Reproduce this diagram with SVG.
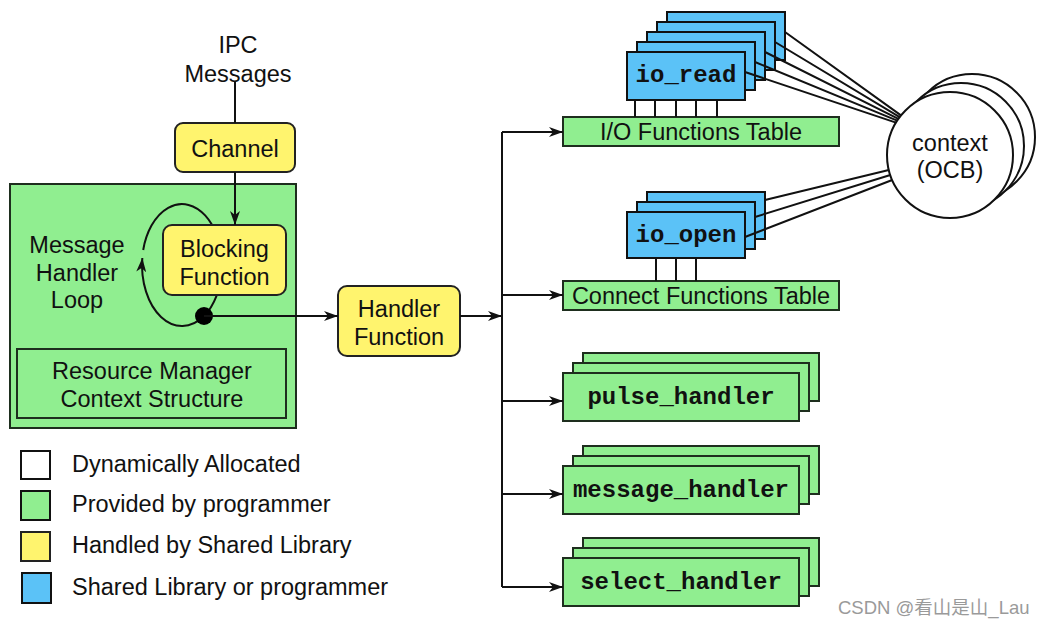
<svg xmlns="http://www.w3.org/2000/svg" width="1044" height="626" viewBox="0 0 1044 626">
<defs>
<marker id="ah" viewBox="0 0 14 10" refX="14" refY="5" markerWidth="14" markerHeight="10" markerUnits="userSpaceOnUse" orient="auto"><path d="M0,0 L14,5 L0,10 L4,5 z" fill="#111"/></marker>
</defs>
<style>
.t{font-family:"Liberation Sans",Arial,sans-serif;font-size:23.5px;fill:#111;text-anchor:middle}
.lg{font-family:"Liberation Sans",Arial,sans-serif;font-size:23.5px;fill:#111}
.m{font-family:"Liberation Mono","Courier New",monospace;font-size:24px;font-weight:bold;fill:#111;text-anchor:middle}
.g{fill:#90ee90;stroke:#1e2e1e;stroke-width:2}
.y{fill:#fff46e;stroke:#222;stroke-width:2}
.b{fill:#5bc2f7;stroke:#111;stroke-width:2}
.w{fill:#fff;stroke:#111;stroke-width:2}
.c{fill:none;stroke:#111;stroke-width:2}
.a{fill:none;stroke:#111;stroke-width:2;marker-end:url(#ah)}
</style>
<rect width="1044" height="626" fill="#fff"/>

<g id="ipc"><text class="t" x="238" y="53">IPC</text><text class="t" x="238" y="82">Messages</text></g>

<g id="rm">
<rect class="g" x="10" y="184" width="286" height="244"/>
<text class="t" x="77" y="253">Message</text><text class="t" x="77" y="281">Handler</text><text class="t" x="77" y="308">Loop</text>
</g>
<g id="loop">
<path class="a" d="M204,316 A40,61 0 0 1 142.3,258"/>
<path class="c" d="M143.2,250 A40,61 0 1 1 204,316"/>
</g>
<g id="channel"><rect class="y" x="175" y="123" width="120" height="49" rx="8"/><text class="t" x="235" y="157">Channel</text></g>
<g id="blocking"><rect class="y" x="163" y="225" width="123" height="70" rx="9"/><text class="t" x="224.5" y="257">Blocking</text><text class="t" x="224.5" y="285">Function</text></g>
<g id="dot"><circle cx="204" cy="316" r="9" fill="#000"/></g>
<g id="rmctx"><rect class="g" x="17" y="349" width="269" height="69"/><text class="t" x="152" y="379">Resource Manager</text><text class="t" x="152" y="407">Context Structure</text></g>

<g id="handler"><rect class="y" x="338" y="286" width="122" height="70" rx="9"/><text class="t" x="399" y="317">Handler</text><text class="t" x="399" y="345">Function</text></g>

<g id="io_read">
<rect class="b" x="667" y="12" width="118" height="48"/>
<rect class="b" x="657" y="22" width="118" height="48"/>
<rect class="b" x="647" y="32" width="118" height="48"/>
<rect class="b" x="637" y="42" width="118" height="48"/>
<rect class="b" x="627" y="52" width="118" height="48"/>
<text class="m" x="686" y="82">io_read</text>
</g>
<g id="iotable"><rect class="g" x="563" y="117" width="276" height="29"/><text class="t" x="701" y="140">I/O Functions Table</text></g>

<g id="io_open">
<rect class="b" x="647" y="192" width="118" height="47"/>
<rect class="b" x="637" y="202" width="118" height="47"/>
<rect class="b" x="627" y="212" width="118" height="46"/>
<text class="m" x="686" y="242">io_open</text>
</g>
<g id="cotable"><rect class="g" x="563" y="281" width="276" height="29"/><text class="t" x="701" y="304">Connect Functions Table</text></g>

<g id="pulse">
<rect class="g" x="583" y="353" width="236" height="48"/>
<rect class="g" x="573" y="363" width="236" height="48"/>
<rect class="g" x="563" y="373" width="236" height="48"/>
<text class="m" x="681" y="404">pulse_handler</text>
</g>
<g id="message">
<rect class="g" x="583" y="446" width="236" height="48"/>
<rect class="g" x="573" y="456" width="236" height="48"/>
<rect class="g" x="563" y="466" width="236" height="48"/>
<text class="m" x="681" y="497">message_handler</text>
</g>
<g id="select">
<rect class="g" x="583" y="538" width="236" height="48"/>
<rect class="g" x="573" y="548" width="236" height="48"/>
<rect class="g" x="563" y="558" width="236" height="48"/>
<text class="m" x="681" y="589">select_handler</text>
</g>

<g id="context">
<circle class="w" cx="972" cy="137" r="63"/>
<circle class="w" cx="961" cy="146" r="63"/>
<circle class="w" cx="950" cy="155" r="63"/>
<text class="t" x="950" y="151">context</text><text class="t" x="950" y="178">(OCB)</text>
</g>

<g id="connectors">
<path class="c" d="M235,82 V123"/>
<path class="a" d="M235,172 V225"/>
<path class="a" d="M204,316 H338"/>
<path class="a" d="M460,316 H502"/>
<path class="c" d="M502,132 V587"/>
<path class="a" d="M502,132 H563"/>
<path class="a" d="M502,295 H563"/>
<path class="a" d="M502,401 H563"/>
<path class="a" d="M502,494 H563"/>
<path class="a" d="M502,587 H563"/>
<path class="c" d="M635,100 V117 M655,100 V117 M676,100 V117 M696,100 V117 M717,100 V117"/>
<path class="c" d="M656,258 V281 M676,258 V281 M696,258 V281"/>
<path class="c" d="M785,32 L901,115.4 M775,42 L899.7,117.1 M765,52 L898.4,118.9 M755,62 L897.2,120.7 M745,72 L896,122.6"/>
<path class="c" d="M765,200 L888.8,170 M755,217 L890.3,175 M745,237 L892.2,180"/>
</g>

<g id="legend">
<rect class="w" x="21" y="451" width="29" height="28"/>
<rect class="g" x="21" y="491" width="29" height="29" style="stroke:#111"/>
<rect class="y" x="21" y="532" width="29" height="29"/>
<rect class="b" x="22" y="573" width="29" height="30"/>
<text class="lg" x="72" y="472">Dynamically Allocated</text>
<text class="lg" x="72" y="512">Provided by programmer</text>
<text class="lg" x="72" y="553">Handled by Shared Library</text>
<text class="lg" x="72" y="595">Shared Library or programmer</text>
</g>

<text x="838" y="614" style="font-family:'Liberation Sans','Noto Sans CJK SC',sans-serif;font-size:18.5px;fill:#9a9a9a">CSDN @看山是山_Lau</text>
</svg>
